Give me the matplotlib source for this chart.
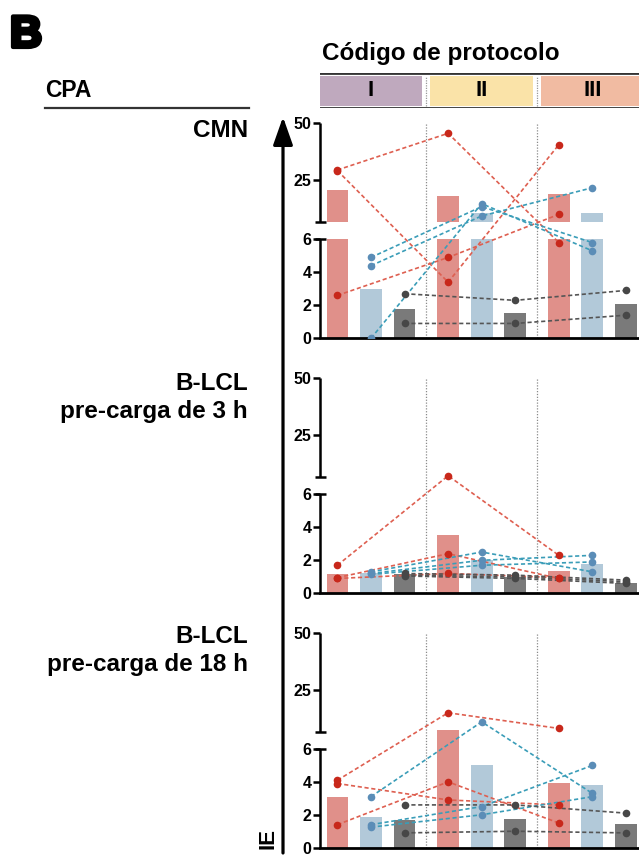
import numpy as np
import matplotlib.pyplot as plt
from matplotlib.lines import Line2D
from matplotlib.patches import FancyArrowPatch
import matplotlib.patheffects as pe

plt.rcParams['font.family'] = ['Liberation Sans', 'DejaVu Sans']

protocols = ['I', 'II', 'III']
header_colors = ['#BFA9BE', '#FAE3A8', '#F1BBA2']

# bar heights per protocol (I, II, III)
cmn_bar_red = [20.5, 18.2, 18.8]
cmn_bar_blue = [3.0, 10.8, 10.8]
cmn_bar_grey = [1.75, 1.55, 2.1]
lcl3_bar_red = [1.17, 3.52, 1.35]
lcl3_bar_blue = [1.2, 2.0, 1.8]
lcl3_bar_grey = [1.18, 0.97, 0.65]
lcl18_bar_red = [3.06, 7.4, 3.93]
lcl18_bar_blue = [1.84, 5.03, 3.79]
lcl18_bar_grey = [1.68, 1.74, 1.46]

# individual donors, values at I, II, III
cmn_pts_red = [[29.5, 45.6, 5.8], [29.2, 3.4, 40.6], [2.6, 4.9, 10.0]]
cmn_pts_blue = [[4.9, 13.4, 5.8], [4.4, 9.3, 21.7], [0.0, 14.7, 5.3]]
cmn_pts_grey = [[2.7, 2.3, 2.9], [0.9, 0.9, 1.4]]
lcl3_pts_red = [[1.7, 7.2, 2.3], [0.95, 2.4, 0.9], [0.9, 1.2, 0.95]]
lcl3_pts_blue = [[1.3, 2.5, 1.3], [1.2, 2.0, 2.3], [1.15, 1.7, 1.9]]
lcl3_pts_grey = [[1.2, 1.1, 0.8], [1.1, 1.0, 0.7], [1.05, 0.9, 0.6]]
lcl18_pts_red = [[4.1, 15.0, 8.1], [3.9, 2.9, 2.6], [1.4, 4.0, 1.5]]
lcl18_pts_blue = [[3.1, 11.0, 3.3], [1.4, 2.5, 5.0], [1.25, 2.0, 3.1]]
lcl18_pts_grey = [[2.6, 2.6, 2.1], [0.9, 1.0, 0.9]]

W, H = 639, 855
LOW_TOP, UP_BOT, UP_TOP, GAP = 6.0, 6.5, 50.0, 0.171
GROUP = 3.3
BAR_W = 0.65
XLIM = (-0.52, 2 * GROUP + 2 + 0.39)

bar_colors = ['#E0908A', '#B2C9D9', '#7A7A7A']
pt_colors = ['#C8281B', '#5B8DB7', '#474747']
line_colors = ['#DE5F50', '#3A9DB8', '#555555']


def fwd(v):
    v = np.asarray(v, float)
    low = v / LOW_TOP
    mid = 1 + (v - LOW_TOP) / (UP_BOT - LOW_TOP) * GAP
    up = 1 + GAP + (v - UP_BOT) / (UP_TOP - UP_BOT)
    return np.where(v <= LOW_TOP, low, np.where(v < UP_BOT, mid, up))


def inv(y):
    y = np.asarray(y, float)
    low = y * LOW_TOP
    mid = LOW_TOP + (y - 1) / GAP * (UP_BOT - LOW_TOP)
    up = UP_BOT + (y - 1 - GAP) * (UP_TOP - UP_BOT)
    return np.where(y <= 1, low, np.where(y < 1 + GAP, mid, up))


def fx(x):
    return x / W


def fy(y):
    return 1 - y / H


def draw_panel(ax, bars, pts):
    ax.set_yscale('function', functions=(fwd, inv))
    for j, vals in enumerate(bars):
        for g, v in enumerate(vals):
            x = g * GROUP + j
            if v < 10:
                ax.bar(x, v, BAR_W, color=bar_colors[j], zorder=1)
            else:
                ax.bar(x, LOW_TOP, BAR_W, color=bar_colors[j], zorder=1)
                ax.bar(x, v - UP_BOT, BAR_W, bottom=UP_BOT, color=bar_colors[j], zorder=1)
    for j, donors in enumerate(pts):
        xs = [g * GROUP + j for g in range(len(protocols))]
        for d in donors:
            ax.plot(xs, d, ls=(0, (2.5, 1.6)), color=line_colors[j], lw=1.2, zorder=3)
            ax.plot(xs, d, 'o', color=pt_colors[j], ms=5.5, mec='none', zorder=4)
    for g in range(1, len(protocols)):
        ax.axvline(g * GROUP - (GROUP - 2) / 2, color='#8a8a8a', ls=(0, (1, 1.3)), lw=0.9, zorder=0.5)

    yt = ax.get_yaxis_transform()
    for a, b in [(0, LOW_TOP), (UP_BOT, UP_TOP)]:
        ax.plot([0, 0], [a, b], transform=yt, color='black', lw=1.8, clip_on=False, solid_capstyle='butt')
    for v in [LOW_TOP, UP_BOT]:
        ax.plot([-0.017, 0.018], [v, v], transform=yt, color='black', lw=1.8, clip_on=False, solid_capstyle='butt')

    ax.set_xlim(*XLIM)
    ax.set_ylim(0, UP_TOP)
    ax.set_xticks([])
    ax.set_yticks([0, 2, 4, 6, 25, 50])
    ax.set_yticklabels(['0', '2', '4', '6', '25', '50'], fontweight='bold')
    ax.tick_params(axis='y', length=5, width=1.8, labelsize=11.5, pad=1)
    ax.spines['left'].set_visible(False)
    ax.spines['top'].set_visible(False)
    ax.spines['right'].set_visible(False)
    ax.spines['bottom'].set_linewidth(2)


fig = plt.figure(figsize=(W / 100, H / 100), dpi=100)

panels = [
    (123.3, 338.3, [cmn_bar_red, cmn_bar_blue, cmn_bar_grey], [cmn_pts_red, cmn_pts_blue, cmn_pts_grey]),
    (378.3, 593.3, [lcl3_bar_red, lcl3_bar_blue, lcl3_bar_grey], [lcl3_pts_red, lcl3_pts_blue, lcl3_pts_grey]),
    (633.3, 847.7, [lcl18_bar_red, lcl18_bar_blue, lcl18_bar_grey], [lcl18_pts_red, lcl18_pts_blue, lcl18_pts_grey]),
]
for top, bottom, bars, pts in panels:
    ax = fig.add_axes([fx(320), fy(bottom), fx(639 - 320), (bottom - top) / H])
    draw_panel(ax, bars, pts)

# protocol header
hax = fig.add_axes([fx(320), fy(108.5), fx(319), 35 / H])
hax.set_xlim(*XLIM)
hax.set_ylim(0, 1)
hax.axis('off')
seps = [g * GROUP - (GROUP - 2) / 2 for g in range(1, len(protocols))]
lefts = [XLIM[0]] + [s + 0.12 for s in seps]
rights = [s - 0.12 for s in seps] + [XLIM[1]]
for g, name in enumerate(protocols):
    hax.axvspan(lefts[g], rights[g], ymin=0.07, ymax=0.93, color=header_colors[g], lw=0)
    hax.text(g * GROUP + 1, 0.5, name, ha='center', va='center', fontsize=16, fontweight='bold')
for s in seps:
    hax.axvline(s, ymin=0.07, ymax=0.93, color='#999999', ls=(0, (1, 1)), lw=0.9)
hax.axhline(1, color='#333333', lw=2)
hax.axhline(0, color='#333333', lw=2)

fig.text(fx(10), fy(47), 'B', fontsize=32, fontweight='bold',
         path_effects=[pe.withStroke(linewidth=3, foreground='black')])
fig.text(fx(322), fy(60), 'Código de protocolo', fontsize=17.5, fontweight='bold', va='baseline')
fig.text(fx(45), fy(97), 'CPA', fontsize=16.5, fontweight='bold', va='baseline')
fig.add_artist(Line2D([fx(45), fx(249)], [fy(108), fy(108)], color='#333333', lw=1.6))

row_size = 17.5
fig.text(fx(248), fy(137), 'CMN', fontsize=row_size, fontweight='bold', ha='right', va='baseline')
fig.text(fx(248), fy(390), 'B-LCL', fontsize=row_size, fontweight='bold', ha='right', va='baseline')
fig.text(fx(248), fy(418), 'pre-carga de 3 h', fontsize=row_size, fontweight='bold', ha='right', va='baseline')
fig.text(fx(248), fy(643), 'B-LCL', fontsize=row_size, fontweight='bold', ha='right', va='baseline')
fig.text(fx(248), fy(671), 'pre-carga de 18 h', fontsize=row_size, fontweight='bold', ha='right', va='baseline')

fig.add_artist(FancyArrowPatch((fx(283), fy(853)), (fx(283), fy(117)), transform=fig.transFigure,
                               arrowstyle='-|>,head_length=0.85,head_width=0.3', mutation_scale=20,
                               lw=2.3, color='black', shrinkA=0, shrinkB=0))
fig.text(fx(268), fy(838), 'IE', rotation=90, fontsize=16, fontweight='bold', ha='center', va='center')

fig.savefig('out.png', dpi=100)
